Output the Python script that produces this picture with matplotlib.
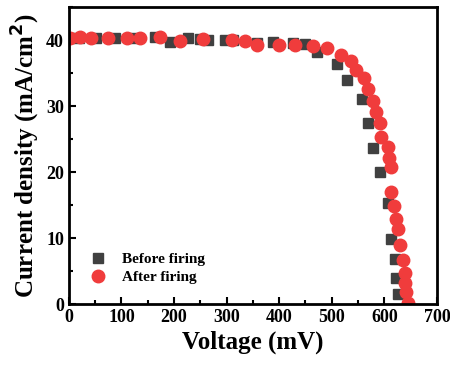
import matplotlib
matplotlib.use('Agg')
import matplotlib.pyplot as plt
from matplotlib.ticker import MultipleLocator

plt.rcParams['font.family'] = ['Liberation Serif', 'DejaVu Serif']
plt.rcParams['font.weight'] = 'bold'

# Before firing (squares)
v_before = [0, 20, 52, 87, 125, 163, 192, 226, 250, 264, 296, 312, 357, 388,
            426, 449, 471, 510, 528, 557, 568, 578, 591, 607, 612, 620, 623, 626]
j_before = [40.3, 40.3, 40.3, 40.3, 40.3, 40.4, 39.7, 40.3, 40.2, 40.0, 40.0, 40.0, 39.6, 39.7,
            39.5, 39.4, 38.2, 36.3, 34.0, 31.0, 27.4, 23.6, 20.0, 15.3, 9.8, 6.8, 4.0, 1.5]

# After firing (circles)
v_after = [2, 21, 43, 75, 110, 135, 173, 211, 255, 310, 335, 358, 400, 430,
           464, 490, 517, 536, 547, 561, 569, 578, 584, 591, 593, 606, 608, 613,
           612, 618, 623, 626, 629, 635, 639, 640, 642, 644]
j_after = [40.3, 40.4, 40.3, 40.3, 40.3, 40.3, 40.5, 39.8, 40.1, 40.0, 39.8, 39.3, 39.2, 39.2,
           39.1, 38.8, 37.7, 36.9, 35.5, 34.2, 32.6, 30.7, 29.1, 27.4, 25.3, 23.8, 22.1, 20.8,
           17.0, 14.8, 12.9, 11.4, 8.9, 6.7, 4.7, 3.2, 1.8, 0.2]

fig = plt.figure(figsize=(4.5, 3.7), dpi=100)
ax = fig.add_axes([0.153, 0.178, 0.818, 0.803])

ax.plot(v_before, j_before, 's', color='#404040', markersize=7.5, label='Before firing')
ax.plot(v_after, j_after, 'o', color='#f03c3c', markersize=9, label='After firing')

ax.set_xlim(0, 700)
ax.set_ylim(0, 45)
ax.xaxis.set_major_locator(MultipleLocator(100))
ax.xaxis.set_minor_locator(MultipleLocator(50))
ax.yaxis.set_major_locator(MultipleLocator(10))
ax.yaxis.set_minor_locator(MultipleLocator(5))
ax.tick_params(which='both', direction='in', width=1.5, labelsize=13)
ax.tick_params(which='major', length=5)
ax.tick_params(which='minor', length=3)
for s in ax.spines.values():
    s.set_linewidth(2)

ax.set_xlabel('Voltage (mV)', fontsize=18, fontweight='bold', labelpad=3)
ax.set_ylabel('Current density (mA/cm$^\\mathbf{2}$)', fontsize=18, fontweight='bold', labelpad=3)

ax.legend(loc='lower left', bbox_to_anchor=(0.0, 0.022), frameon=False,
          prop={'size': 11, 'weight': 'bold'}, handletextpad=0.6, labelspacing=0.25)

fig.savefig('out.png', dpi=100)
